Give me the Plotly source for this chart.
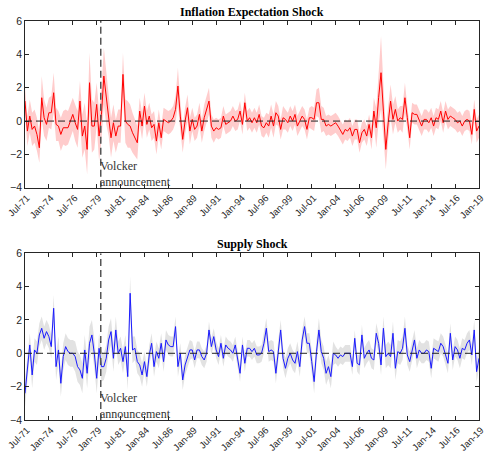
import plotly.graph_objects as go

# Quarterly observations, 1971Q3 .. 2019Q1 (191 quarters)
infl_shock = [
    1.2, -0.6, 0.3, -0.5, -0.3, -0.8, -1.6, 1.4, 0.2, -0.2,
    0.5, 0.5, 1.7, -0.2, -0.3, -0.8, -0.4, -0.4, -0.4, 0.0,
    0.4, -0.1, -0.5, 1.2, -0.9, -0.3, -1.7, 2.3, -0.3, -0.3,
    1.0, -0.9, 0.4, 2.7, 1.4, 0.5, -1.0, -0.1, -0.9, -0.3,
    -0.3, 2.8, 0.0, -0.2, -0.3, -0.7, -1.0, -1.3, 0.6, -0.3,
    0.9, -0.2, 0.3, -0.4, -0.2, -1.2, -0.1, -1.0, 0.1, 0.0,
    -0.1, 0.0, 0.2, 0.7, 2.1, 0.3, -1.1, 0.0, 0.8, -0.6,
    0.1, -0.5, -0.3, 0.4, -0.6, 0.2, 0.7, 1.2, -0.3, -0.6,
    -0.4, -0.5, -0.4, 0.3, -0.2, -0.1, 0.0, 0.3, 0.0, 0.1,
    0.6, -0.2, 1.1, 0.0, 0.2, -0.1, 0.2, -0.1, 0.4, -0.3,
    -0.4, -0.1, -0.3, 0.3, -0.3, 0.5, 0.3, -0.5, 0.2, 0.1,
    -0.1, 0.3, 0.0, 0.4, -0.3, 0.0, 0.3, 0.1, -0.5, 0.2,
    0.2, 0.1, 1.1, 1.1, 0.1, 0.1, -0.3, -0.2, -0.3, -0.2,
    -0.1, -0.3, -0.6, -0.8, -0.5, -0.6, -0.4, -0.9, -0.5, -0.5,
    -1.3, -0.7, -0.5, -0.9, -0.2, -1.0, 0.6, -0.4, 1.4, 2.9,
    0.6, -1.7, -0.1, 1.2, 0.1, 0.7, 0.0, 0.2, 0.1, 1.4,
    0.2, -1.0, 0.5, 0.4, 0.4, 0.1, -0.3, 0.1, 0.1, -0.1,
    0.2, -0.3, 0.2, 0.1, 0.6, -0.1, 0.6, 0.1, 0.3, 0.2,
    0.1, -0.1, 0.0, -0.3, 0.0, 0.1, 0.0, -0.8, 0.7, -0.6,
    -0.3,
]
infl_band = [
    0.8, 0.9, 1.0, 1.0, 1.0, 1.0, 0.9, 1.3, 1.1, 1.0,
    0.9, 1.0, 1.2, 1.0, 0.9, 1.0, 1.0, 1.1, 1.0, 1.0,
    1.0, 1.1, 1.1, 1.2, 1.3, 1.4, 1.5, 1.8, 1.6, 1.4,
    1.3, 1.5, 1.6, 1.7, 1.6, 1.4, 1.2, 1.1, 1.0, 1.0,
    1.0, 1.3, 1.3, 1.4, 1.3, 1.2, 1.1, 1.0, 0.8, 0.8,
    0.8, 0.8, 0.8, 0.8, 0.8, 0.8, 0.8, 0.7, 0.7, 0.7,
    0.7, 0.7, 0.7, 0.8, 1.1, 0.9, 0.8, 0.8, 0.8, 0.8,
    0.7, 0.7, 0.7, 0.7, 0.7, 0.8, 0.8, 0.8, 0.7, 0.7,
    0.6, 0.6, 0.6, 0.6, 0.6, 0.6, 0.6, 0.6, 0.6, 0.6,
    0.6, 0.6, 0.6, 0.6, 0.6, 0.6, 0.6, 0.6, 0.6, 0.6,
    0.6, 0.6, 0.7, 0.7, 0.7, 0.7, 0.6, 0.6, 0.7, 0.6,
    0.6, 0.6, 0.6, 0.6, 0.6, 0.6, 0.6, 0.6, 0.6, 0.6,
    0.7, 0.7, 0.8, 0.9, 0.8, 0.7, 0.6, 0.6, 0.6, 0.6,
    0.6, 0.6, 0.6, 0.6, 0.6, 0.6, 0.6, 0.6, 0.6, 0.6,
    0.6, 0.6, 0.6, 0.6, 0.6, 0.7, 0.8, 1.2, 1.5, 2.2,
    1.6, 1.2, 1.0, 1.0, 0.9, 0.8, 0.7, 0.7, 0.8, 0.9,
    0.7, 0.7, 0.6, 0.6, 0.6, 0.6, 0.6, 0.6, 0.6, 0.6,
    0.6, 0.6, 0.6, 0.6, 0.6, 0.6, 0.6, 0.6, 0.6, 0.6,
    0.6, 0.6, 0.6, 0.6, 0.6, 0.6, 0.6, 0.6, 0.6, 0.7,
    0.7,
]
supply_shock = [
    -2.4, -0.8, 0.5, -1.3, 0.2, 0.0, 1.1, 1.5, 0.9, 1.3,
    1.0, 0.4, 2.7, -0.8, 0.2, -1.8, -0.2, 0.4, 0.1, 0.0,
    0.0, -0.2, -0.8, -1.0, -1.5, 0.2, -1.2, 0.6, 1.1, 0.0,
    -1.5, 0.3, -0.8, -0.8, -0.3, 0.8, 1.3, -0.3, 1.4, 0.0,
    0.3, -0.5, 0.4, -1.4, 3.6, 0.2, 0.3, -0.5, -0.7, -1.3,
    -0.5, -1.4, -0.1, 0.6, -0.8, 0.1, -0.3, 0.6, -0.5, 0.8,
    0.5, 0.4, 0.4, 1.6, -0.8, 0.0, -1.6, -0.7, -0.2, 0.2,
    0.2, -0.4, 0.2, 0.2, -0.2, -0.4, 0.0, 1.4, 0.4, 1.0,
    0.2, -0.2, 0.6, -0.3, 0.5, 0.3, 0.2, 0.0, 0.5, -0.3,
    -1.2, 0.5, -0.6, 0.3, 0.3, 0.1, 0.3, -0.1, -0.1, 0.0,
    0.6, 1.5, 0.1, 0.2, 0.1, -1.2, 0.2, 1.4, -0.3, -0.9,
    -0.3, 0.0, -0.4, -0.6, 0.1, -0.8, 0.8, 1.6, 0.6, 0.6,
    -0.5, -1.7, 0.1, 1.4, 0.1, -0.3, -1.2, -0.8, -1.4, 0.0,
    -0.1, -0.3, -0.1, -0.2, 0.0, 0.0, 0.0, -0.8, 0.9, -0.6,
    -0.7, 1.1, -0.3, 0.0, 0.2, -0.3, -0.4, 1.2, 0.6, -0.7,
    1.5, -0.2, 0.0, -0.2, 1.2, -0.9, 0.1, 0.0, 0.3, 1.5,
    -0.1, -0.5, 0.2, 0.8, -0.3, 0.2, 0.0, 0.0, 0.2, 0.1,
    -0.9, 0.3, 0.2, 0.1, 0.6, 0.4, -0.1, -0.6, 1.2, -0.4,
    0.4, 0.2, -0.3, 0.3, 0.2, 0.6, 0.8, -0.1, 1.4, -1.1,
    -0.3,
]
supply_band = [
    0.8, 0.8, 0.7, 0.8, 0.7, 0.7, 0.7, 0.7, 0.7, 0.7,
    0.7, 0.7, 0.8, 0.8, 0.8, 0.8, 0.8, 0.8, 0.8, 0.8,
    0.8, 0.9, 0.9, 0.9, 0.9, 0.9, 0.9, 1.0, 0.9, 0.9,
    0.9, 0.9, 0.9, 0.8, 0.8, 0.8, 0.8, 0.8, 0.8, 0.7,
    0.7, 0.7, 0.7, 0.8, 1.0, 0.8, 0.7, 0.7, 0.7, 0.7,
    0.6, 0.6, 0.6, 0.6, 0.6, 0.6, 0.6, 0.6, 0.6, 0.6,
    0.6, 0.6, 0.6, 0.6, 0.6, 0.6, 0.6, 0.6, 0.6, 0.6,
    0.5, 0.5, 0.5, 0.5, 0.5, 0.5, 0.5, 0.5, 0.5, 0.5,
    0.5, 0.5, 0.5, 0.5, 0.5, 0.5, 0.5, 0.5, 0.5, 0.5,
    0.5, 0.5, 0.5, 0.5, 0.5, 0.5, 0.5, 0.5, 0.5, 0.5,
    0.6, 0.6, 0.6, 0.6, 0.6, 0.6, 0.6, 0.6, 0.6, 0.6,
    0.6, 0.6, 0.6, 0.6, 0.6, 0.6, 0.6, 0.6, 0.6, 0.6,
    0.7, 0.7, 0.7, 0.7, 0.7, 0.7, 0.7, 0.7, 0.7, 0.7,
    0.5, 0.5, 0.5, 0.5, 0.5, 0.5, 0.5, 0.5, 0.5, 0.5,
    0.6, 0.6, 0.6, 0.6, 0.6, 0.6, 0.6, 0.6, 0.6, 0.6,
    0.7, 0.7, 0.7, 0.7, 0.7, 0.7, 0.7, 0.7, 0.7, 0.7,
    0.6, 0.6, 0.6, 0.6, 0.6, 0.6, 0.6, 0.6, 0.6, 0.6,
    0.6, 0.6, 0.6, 0.6, 0.6, 0.6, 0.6, 0.6, 0.6, 0.6,
    0.6, 0.6, 0.6, 0.6, 0.6, 0.6, 0.6, 0.6, 0.6, 0.6,
    0.6,
]
tick_labels = ["Jul-71", "Jan-74", "Jul-76", "Jan-79", "Jul-81", "Jan-84", "Jul-86",
               "Jan-89", "Jul-91", "Jan-94", "Jul-96", "Jan-99", "Jul-01", "Jan-04",
               "Jul-06", "Jan-09", "Jul-11", "Jan-14", "Jul-16", "Jan-19"]
titles = ["Inflation Expectation Shock", "Supply Shock"]
volcker_text = "Volcker<br>announcement"
volcker_q = 31.7  # position on the quarter axis

n = len(infl_shock)
quarters = list(range(n))
tick_vals = list(range(0, n, 10))

fig = go.Figure()

panels = [
    ("x", "y", infl_shock, infl_band, "#ff0000", "rgba(255,0,0,0.2)"),
    ("x2", "y2", supply_shock, supply_band, "#1a1aff", "rgba(190,190,190,0.45)"),
]
for xa, ya, vals, band, lc, fc in panels:
    upper = [v + b for v, b in zip(vals, band)]
    lower = [v - b for v, b in zip(vals, band)]
    fig.add_trace(go.Scatter(x=quarters, y=upper, mode="lines", line=dict(width=0),
                             hoverinfo="skip", showlegend=False, xaxis=xa, yaxis=ya))
    fig.add_trace(go.Scatter(x=quarters, y=lower, mode="lines", line=dict(width=0),
                             fill="tonexty", fillcolor=fc, hoverinfo="skip",
                             showlegend=False, xaxis=xa, yaxis=ya))
    fig.add_trace(go.Scatter(x=quarters, y=vals, mode="lines", line=dict(color=lc, width=1),
                             showlegend=False, xaxis=xa, yaxis=ya))

axis_common = dict(showline=True, linecolor="#262626", linewidth=0.8, mirror="allticks",
                   ticks="inside", ticklen=4, tickcolor="#262626", showgrid=False,
                   zeroline=False, automargin=False, ticklabeloverflow="allow",
                   tickfont=dict(family="Liberation Sans, Arial", size=10.5, color="#262626"))
xcommon = dict(axis_common, range=[0, n - 1], tickvals=tick_vals, ticktext=tick_labels,
               tickangle=-45, ticklabelstandoff=0, ticklabelshift=2,
               tickfont=dict(family="Liberation Sans, Arial", size=9.5, color="#262626"))
ycommon = dict(axis_common, range=[-4, 6], tickvals=[-4, -2, 0, 2, 4, 6])

fig.update_layout(
    width=486, height=453,
    margin=dict(l=25, r=7, t=21, b=33),
    plot_bgcolor="white", paper_bgcolor="white",
    xaxis=dict(xcommon, domain=[0, 1], anchor="y"),
    yaxis=dict(ycommon, domain=[0.582, 1.0], anchor="x"),
    xaxis2=dict(xcommon, domain=[0, 1], anchor="y2"),
    yaxis2=dict(ycommon, domain=[0.0, 0.418], anchor="x2"),
)

for i, (xa, ya) in enumerate([("x", "y"), ("x2", "y2")]):
    fig.add_shape(type="line", xref=xa, yref=ya, x0=0, x1=n - 1, y0=0, y1=0,
                  line=dict(color="#222222", width=1, dash="7px,4px"))
    fig.add_shape(type="line", xref=xa, yref=ya, x0=volcker_q, x1=volcker_q, y0=-4, y1=6,
                  line=dict(color="#555555", width=1.5, dash="7px,4px"))
    fig.add_annotation(x=volcker_q, y=-2.15, xref=xa, yref=ya, text=volcker_text,
                       showarrow=False, xanchor="left", yanchor="top", align="left",
                       xshift=-3,
                       font=dict(family="Liberation Serif, Times New Roman", size=12,
                                 color="#333333"))
    dom = [0.582, 1.0] if i == 0 else [0.0, 0.418]
    fig.add_annotation(x=0.5, y=dom[1], xref="paper", yref="paper",
                       text="<b>" + titles[i] + "</b>", showarrow=False,
                       xanchor="center", yanchor="bottom", yshift=0,
                       font=dict(family="Liberation Serif, Times New Roman", size=12,
                                 color="black"))

fig.write_html("out.html")
